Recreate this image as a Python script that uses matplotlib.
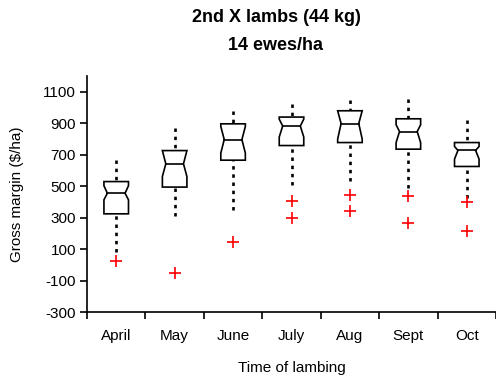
import matplotlib
matplotlib.use("Agg")
import matplotlib.pyplot as plt
from matplotlib.patches import Polygon

plt.rcParams['font.family'] = ['Liberation Sans', 'DejaVu Sans']

months = ['April', 'May', 'June', 'July', 'Aug', 'Sept', 'Oct']
q1 = [324, 494, 665, 758, 777, 735, 625]
med = [455, 642, 796, 882, 898, 847, 727]
q3 = [529, 726, 896, 939, 979, 928, 777]
notch_lo = [413, 561, 710, 812, 799, 777, 672]
notch_hi = [502, 726, 879, 926, 979, 890, 752]
whisk_lo = [84, 307, 349, 505, 534, 489, 424]
whisk_hi = [667, 869, 977, 1020, 1047, 1055, 922]
outliers = [[25], [-54], [147], [408, 300], [445, 345], [436, 264], [396, 217]]
yticks = [-300, -100, 100, 300, 500, 700, 900, 1100]

fig = plt.figure(figsize=(4.96, 3.8), dpi=100)
ax = fig.add_axes([87/496, 68/380, 409/496, (312-76)/380])

hw = 0.21
nw = hw * 0.72
for i, m in enumerate(months):
    pos = i + 1
    pts = [(pos - hw, q1[i]), (pos - hw, notch_lo[i]), (pos - nw, med[i]),
           (pos - hw, notch_hi[i]), (pos - hw, q3[i]), (pos + hw, q3[i]),
           (pos + hw, notch_hi[i]), (pos + nw, med[i]), (pos + hw, notch_lo[i]),
           (pos + hw, q1[i])]
    ax.add_patch(Polygon(pts, closed=True, facecolor='white', edgecolor='black',
                         linewidth=1.2, zorder=3))
    ax.plot([pos - nw, pos + nw], [med[i], med[i]], color='black', lw=1.2, zorder=4)
    # draw from whisker tip toward the box so the dash pattern starts at the tip
    ax.plot([pos, pos], [whisk_hi[i], q3[i]], color='black', lw=1.9,
            dashes=(1.3, 1.8), zorder=2)
    ax.plot([pos, pos], [whisk_lo[i], q1[i]], color='black', lw=1.9,
            dashes=(1.3, 1.8), zorder=2)
    ax.plot([pos] * len(outliers[i]), outliers[i], linestyle='none', marker='+',
            color='red', markersize=8.5, markeredgewidth=1.2, zorder=5)

ax.set_xlim(0.5, 7.5)
ax.set_ylim(-300, 1200)
ax.set_yticks(yticks)
ax.set_yticklabels([str(v) for v in yticks], fontsize=11)
ax.set_xticks([i + 0.5 for i in range(8)])
ax.set_xticklabels([])
ax.set_xticks(range(1, 8), minor=True)
ax.set_xticklabels(months, minor=True, fontsize=11)
ax.tick_params(axis='x', which='minor', length=0, pad=12)
ax.tick_params(axis='x', which='major', length=5, width=1.2, direction='out')
ax.tick_params(axis='y', length=5, width=1.2, direction='out', pad=3)
for s in ['top', 'right']:
    ax.spines[s].set_visible(False)
for s in ['left', 'bottom']:
    ax.spines[s].set_linewidth(1.2)

ax.set_ylabel('Gross margin ($/ha)', fontsize=11)
ax.yaxis.set_label_coords((17 - 87) / 409, 0.5)
ax.set_xlabel('Time of lambing', fontsize=11)
ax.xaxis.set_label_coords(0.5, -(368 - 312) / 236, transform=ax.transAxes)
ax.xaxis.label.set_va('center')
ax.yaxis.label.set_va('center')

fig.text(276/496, 1 - 18/380, '2nd X lambs (44 kg)', ha='center', va='center',
         fontsize=13, fontweight='bold')
fig.text(276/496, 1 - 45/380, '14 ewes/ha', ha='center', va='center',
         fontsize=13, fontweight='bold')

fig.savefig('out.png', dpi=100)
